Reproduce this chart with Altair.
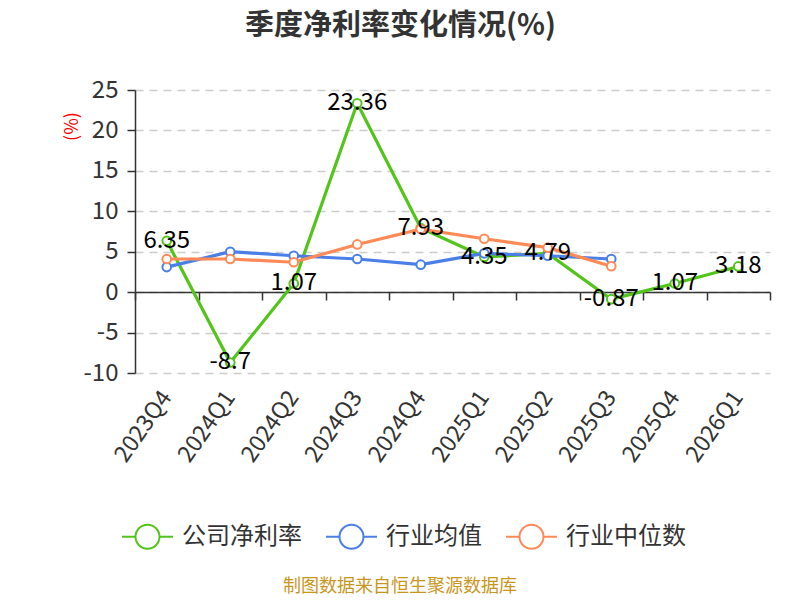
import pandas as pd
import altair as alt

# --- dati ---
quarters = ['2023Q4', '2024Q1', '2024Q2', '2024Q3', '2024Q4',
            '2025Q1', '2025Q2', '2025Q3', '2025Q4', '2026Q1']
company = [6.35, -8.7, 1.07, 23.36, 7.93, 4.35, 4.79, -0.87, 1.07, 3.18]
industry_avg = [3.1, 5.0, 4.5, 4.1, 3.4, 4.8, 4.5, 4.1]
industry_median = [4.1, 4.1, 3.7, 5.9, 7.8, 6.6, 5.5, 3.2]

series_names = ['公司净利率', '行业均值', '行业中位数']
series_colors = ['#52C41A', '#4A7FE8', '#FF8A57']
y_ticks = [-10, -5, 0, 5, 10, 15, 20, 25]

title_text = '季度净利率变化情况(%)'
source_text = '制图数据来自恒生聚源数据库'

FONT = 'Noto Sans CJK SC'
W, H = 635, 283

rows = []
for name, vals in zip(series_names, [company, industry_avg, industry_median]):
    for q, v in zip(quarters, vals):
        rows.append({'季度': q, '数值': v, '系列': name, '标签': str(v)})
df = pd.DataFrame(rows)
df_company = df[df['系列'] == '公司净利率']

x_scale = alt.Scale(type='band', paddingInner=0, paddingOuter=0)
y_scale = alt.Scale(domain=[-10, 25], nice=False, zero=False)

# simbolo legenda: linea + cerchio vuoto
legend_path = ('M-1,0L-0.47,0M0.47,0L1,0'
               'M-0.47,0A0.47,0.47,0,1,1,0.47,0A0.47,0.47,0,1,1,-0.47,0Z')

color = alt.Color('系列:N', sort=series_names,
                  scale=alt.Scale(domain=series_names, range=series_colors),
                  legend=alt.Legend(
                      title=None, orient='none', direction='horizontal',
                      legendX=-14, legendY=420,
                      symbolType=legend_path, symbolSize=2600,
                      symbolStrokeWidth=2, symbolFillColor='white',
                      labelFont=FONT, labelFontSize=24, labelColor='#333',
                      labelOffset=8, columnPadding=20))

y_enc = alt.Y('数值:Q', scale=y_scale, title='(%)',
              axis=alt.Axis(values=y_ticks, grid=True, gridDash=[8, 6],
                            gridColor='#cccccc', gridWidth=1.5,
                            domainColor='#333', domainWidth=1.5,
                            tickColor='#333', tickWidth=1.5, tickSize=8,
                            labelFont=FONT, labelFontSize=24, labelColor='#333',
                            labelPadding=9,
                            labelExpr="replace(datum.label, '\u2212', '-')",
                            titleFont=FONT, titleFontSize=18, titleColor='red',
                            titleFontWeight='normal', titleBaseline='middle',
                            titleX=-63, titleY=36))

# asse con etichette in basso
lines = alt.Chart(df).mark_line(strokeWidth=3.2).encode(
    x=alt.X('季度:N', sort=quarters, scale=x_scale, bandPosition=0.5, title=None,
            axis=alt.Axis(orient='bottom', domain=False, ticks=False, grid=False,
                          labelAngle=-55, labelFont=FONT, labelFontSize=23,
                          labelColor='#333', labelPadding=20)),
    y=y_enc,
    color=color,
)

# asse sullo zero con tacche ai bordi delle bande
points = alt.Chart(df).mark_point(filled=True, fill='white', size=75,
                                  strokeWidth=2, opacity=1).encode(
    x=alt.X('季度:N', sort=quarters, scale=x_scale, bandPosition=0.5, title=None,
            axis=alt.Axis(orient='bottom', offset=-81, labels=False, grid=False,
                          domainColor='#333', domainWidth=1.5,
                          tickColor='#333', tickWidth=1.5, tickSize=8,
                          tickBand='extent')),
    y=alt.Y('数值:Q', scale=y_scale),
    stroke=alt.Stroke('系列:N', sort=series_names,
                      scale=alt.Scale(domain=series_names, range=series_colors),
                      legend=None),
)

labels = alt.Chart(df_company).mark_text(
    font=FONT, fontSize=24, color='black', baseline='middle', align='center'
).encode(
    x=alt.X('季度:N', sort=quarters, scale=x_scale, bandPosition=0.5, axis=None),
    y=alt.Y('数值:Q', scale=y_scale),
    text='标签:N',
)

source = alt.Chart(pd.DataFrame({'t': [source_text]})).mark_text(
    font=FONT, fontSize=18, color='#C8961E', align='center', baseline='middle'
).encode(
    text='t:N',
    x=alt.value(265),
    y=alt.value(497),
)

chart = alt.layer(lines, points, labels, source).resolve_axis(
    x='independent'
).properties(
    width=W,
    height=H,
    autosize=alt.AutoSizeParams(type='none'),
    padding={'left': 127, 'top': 82, 'right': 22, 'bottom': 224},
    title=alt.TitleParams(title_text, font=FONT, fontSize=29, fontWeight='bold',
                          color='#333', anchor='middle', dx=-52, offset=37),
).configure(
    background='white'
).configure_view(
    strokeWidth=0
)

chart.save('out.html', embed_options={'renderer': 'svg', 'actions': False})
